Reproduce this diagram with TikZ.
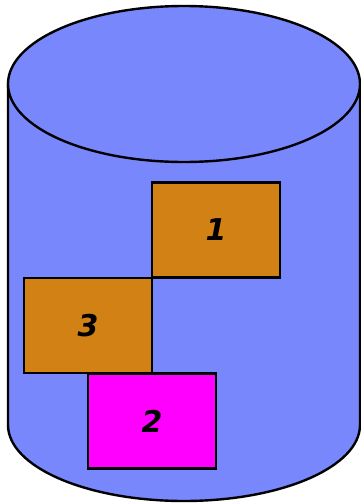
\documentclass[tikz,border=0pt]{standalone}
\usepackage{fontspec}
\setmainfont{DejaVu Sans}
\definecolor{cylblue}{RGB}{120,136,252}
\definecolor{boxorange}{RGB}{210,130,20}
\definecolor{boxmagenta}{RGB}{255,0,255}
\begin{document}
\begin{tikzpicture}[x=1pt,y=-1pt,
  cyl/.style={fill=cylblue,draw=black,line width=2.4pt},
  blk/.style={draw=black,line width=2.6pt,rectangle,minimum width=128pt,minimum height=95pt,inner sep=0pt,
    font=\fontsize{30}{32}\selectfont\bfseries\itshape},
]
\useasboundingbox (0,0) rectangle (361,504);
\path[cyl] (8,84) -- (8,425) arc[start angle=180,end angle=0,x radius=176,y radius=76] -- (360,84) -- cycle;
\path[cyl] (184,84) ellipse[x radius=176,y radius=78];
\node[blk,fill=boxorange] (b1) at (216,230) {1};
\node[blk,fill=boxorange] (b3) at (88,325.5) {3};
\node[blk,fill=boxmagenta] (b2) at (152,421) {2};
\end{tikzpicture}
\end{document}
